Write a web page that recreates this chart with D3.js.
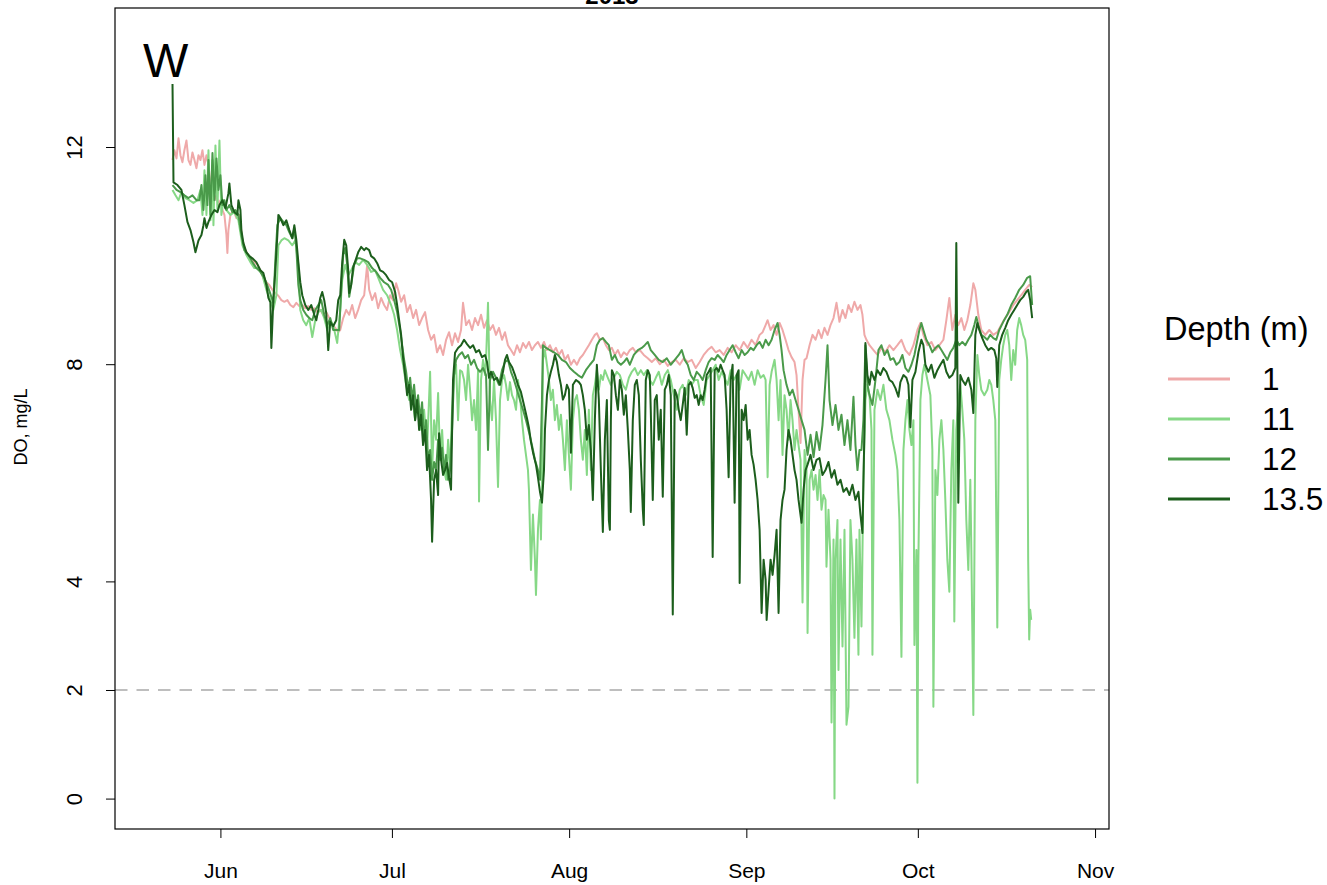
<!DOCTYPE html>
<html>
<head>
<meta charset="utf-8">
<script src="https://cdn.jsdelivr.net/npm/d3@7"></script>
<style>
  body { margin: 0; background: #fff; }
  svg { display: block; font-family: "Liberation Sans", Arial, sans-serif; }
</style>
</head>
<body>
<svg id="chart" width="1327" height="885"></svg>
<script>
// Dissolved oxygen at station W, 2013 season, by sensor depth.
// Each record is [day of year (fractional), DO in mg/L].

const panelTitle = "2013";
const stationLabel = "W";
const yAxisTitle = "DO, mg/L";
const legendTitle = "Depth (m)";
const depthLabels = ["1", "11", "12", "13.5"];
const yTickValues = [0, 2, 4, 8, 12];
const monthTickDates = ["2013-06-01", "2013-07-01", "2013-08-01", "2013-09-01", "2013-10-01", "2013-11-01"];
const xLimits = ["2013-05-20", "2013-10-28"];
const yLimits = [0, 14];
const hypoxiaLevel = 2;

const doDepth1 = [
[143.62,11.76],[143.96,11.94],[144.32,11.79],[144.67,12.16],[145.01,11.85],[145.36,11.72],[145.70,11.94],[146.06,12.12],
[146.41,11.76],[146.76,11.67],[147.11,11.90],[147.46,11.76],[147.81,11.61],[148.16,11.85],[148.51,11.76],[148.86,11.94],
[149.21,11.67],[149.56,11.85],[149.91,11.67],[150.26,11.30],[150.61,11.21],[150.96,11.02],[151.31,11.11],[151.66,10.93],
[152.00,11.02],[152.35,10.84],[152.70,10.75],[153.05,10.38],[153.22,10.05],[153.40,10.47],[153.75,10.75],[154.27,10.84],
[154.80,10.69],[155.32,10.75],[155.85,10.28],[156.37,10.10],[156.90,10.01],[157.42,9.95],[157.94,9.88],[158.47,9.83],
[158.99,9.73],[159.51,9.59],[160.04,9.51],[160.56,9.46],[161.09,9.37],[161.61,9.31],[162.14,9.26],[162.66,9.18],
[163.18,9.15],[163.71,9.18],[164.23,9.09],[164.76,9.05],[165.28,9.13],[165.80,9.07],[166.32,9.09],[166.84,9.03],
[167.37,9.07],[167.89,9.00],[168.42,9.03],[168.94,8.96],[169.46,9.00],[169.99,8.91],[170.51,8.96],[171.04,8.85],
[171.56,8.72],[172.08,8.67],[172.61,8.59],[172.96,8.63],[173.48,8.85],[174.01,9.00],[174.53,8.91],[175.05,9.09],
[175.57,8.85],[176.10,9.00],[176.62,9.18],[177.15,9.27],[177.67,9.83],[178.02,9.37],[178.54,9.18],[179.07,9.31],
[179.59,9.03],[180.11,9.22],[180.64,9.09],[181.16,9.00],[181.69,9.27],[182.21,9.18],[182.74,9.49],[183.09,9.37],
[183.61,9.15],[184.14,9.27],[184.66,8.96],[185.19,9.09],[185.71,8.85],[186.23,9.00],[186.76,8.72],[187.28,8.85],
[187.80,8.96],[188.33,8.63],[188.85,8.45],[189.38,8.54],[189.90,8.22],[190.43,8.35],[190.95,8.17],[191.48,8.45],
[192.00,8.59],[192.52,8.35],[193.04,8.57],[193.57,8.41],[194.09,8.63],[194.44,9.13],[194.97,8.72],[195.49,8.81],
[196.02,8.63],[196.54,8.85],[197.07,8.72],[197.59,8.91],[198.11,8.67],[198.64,8.81],[199.16,8.63],[199.68,8.72],
[200.21,8.54],[200.73,8.67],[201.26,8.45],[201.78,8.59],[202.30,8.35],[202.83,8.26],[203.36,8.17],[203.88,8.35],
[204.40,8.22],[204.93,8.39],[205.45,8.30],[205.97,8.41],[206.50,8.26],[207.02,8.35],[207.55,8.41],[208.07,8.30],
[208.60,8.41],[209.12,8.26],[209.64,8.35],[210.16,8.22],[210.69,8.30],[211.21,8.17],[211.74,8.26],[212.26,8.08],
[212.79,8.17],[213.31,7.99],[213.84,8.08],[214.36,7.99],[214.89,8.11],[215.40,8.17],[215.93,8.26],[216.45,8.35],
[216.98,8.45],[217.50,8.54],[217.85,8.57],[218.38,8.45],[218.90,8.48],[219.43,8.35],[219.95,8.26],[220.48,8.30],
[221.00,8.17],[221.53,8.26],[222.05,8.13],[222.57,8.22],[223.10,8.17],[223.62,8.26],[224.14,8.30],[224.67,8.22],
[225.37,8.26],[226.06,8.17],[226.76,8.11],[227.46,8.04],[228.16,8.11],[228.86,8.00],[229.56,8.08],[230.26,7.97],
[230.96,8.04],[231.66,8.08],[232.35,7.99],[233.05,8.11],[233.75,8.04],[234.45,8.08],[235.15,7.93],[235.84,8.04],
[236.54,8.17],[237.24,8.26],[237.93,8.32],[238.64,8.22],[239.33,8.26],[240.03,8.17],[240.73,8.30],[241.43,8.22],
[242.13,8.35],[242.83,8.26],[243.53,8.41],[244.23,8.30],[244.92,8.45],[245.62,8.35],[246.32,8.54],[246.85,8.59],
[247.37,8.72],[247.72,8.81],[248.24,8.63],[248.77,8.72],[249.29,8.54],[249.82,8.76],[250.33,8.63],[250.86,8.45],
[251.38,8.26],[251.91,8.13],[252.43,8.04],[252.78,7.80],[253.13,7.16],[253.48,6.55],[253.83,7.71],[254.18,8.08],
[254.53,8.11],[255.06,8.35],[255.58,8.54],[256.11,8.45],[256.63,8.63],[257.15,8.48],[257.67,8.67],[258.20,8.54],
[258.72,8.72],[259.25,8.85],[259.77,9.13],[260.29,8.78],[260.82,9.00],[261.34,8.85],[261.87,9.09],[262.39,8.96],
[262.91,9.15],[263.44,9.00],[263.96,9.09],[264.31,8.91],[264.66,8.54],[265.01,8.45],[265.54,8.35],[266.24,8.26],
[266.94,8.17],[267.63,8.30],[268.33,8.22],[269.03,8.35],[269.73,8.26],[270.43,8.35],[271.13,8.45],[271.83,8.26],
[272.53,8.17],[273.23,8.35],[273.93,8.63],[274.45,8.76],[274.97,8.54],[275.67,8.35],[276.37,8.41],[277.07,8.26],
[277.77,8.35],[278.47,8.45],[278.99,8.81],[279.51,9.22],[280.03,8.63],[280.56,8.91],[281.08,8.72],[281.61,8.85],
[282.13,8.63],[282.66,8.81],[283.18,9.09],[283.71,9.49],[284.06,9.37],[284.58,8.91],[285.10,8.63],[285.80,8.54],
[286.50,8.63],[287.20,8.54],[287.90,8.59],[288.59,8.72],[289.29,8.85],[289.99,8.96],[290.69,9.09],[291.38,9.18],
[292.08,9.27],[292.78,9.37],[293.48,9.46],[294.00,9.42]
];

const doDepth11 = [
[143.62,11.21],[144.14,11.11],[144.67,11.02],[145.18,11.17],[145.88,11.06],[146.58,11.02],[147.28,10.97],[147.98,11.02],
[148.51,11.21],[148.86,10.75],[149.21,11.57],[149.56,10.75],[149.91,11.94],[150.26,10.65],[150.61,11.76],[150.78,10.56],
[151.13,12.03],[151.48,10.84],[151.83,12.12],[152.17,10.75],[152.52,11.02],[153.05,10.84],[153.75,10.75],[154.45,10.80],
[155.15,10.65],[155.85,10.19],[156.55,10.01],[157.24,9.88],[157.94,9.77],[158.64,9.77],[159.34,9.64],[160.04,9.37],
[160.74,9.18],[161.26,9.00],[161.79,9.27],[162.14,10.19],[162.66,10.28],[163.18,10.32],[163.88,10.28],[164.58,10.19],
[165.11,10.28],[165.63,9.83],[165.97,9.00],[166.49,8.81],[167.02,8.72],[167.54,8.85],[168.07,8.50],[168.59,8.81],
[169.12,8.96],[169.64,9.00],[170.16,8.85],[170.69,8.63],[171.21,8.81],[171.73,8.72],[172.43,8.39],[172.96,9.00],
[173.31,9.55],[173.83,9.83],[174.36,9.64],[174.87,9.73],[175.57,9.88],[176.27,9.83],[176.97,9.92],[177.67,9.83],
[178.37,9.70],[179.07,9.73],[179.77,9.55],[180.46,9.37],[181.16,9.27],[181.86,9.09],[182.39,8.91],[182.91,8.63],
[183.44,8.26],[183.96,7.99],[184.49,7.62],[185.01,7.34],[185.53,7.43],[186.06,6.97],[186.58,7.25],[187.10,6.79],
[187.63,7.16],[188.15,6.42],[188.68,7.86],[189.03,6.05],[189.38,6.97],[189.73,6.61],[190.08,7.47],[190.43,6.24],
[190.78,6.79],[191.13,6.05],[191.48,5.87],[191.83,6.61],[192.17,6.05],[192.52,7.16],[192.87,7.80],[193.22,7.99],
[193.57,6.97],[193.92,7.89],[194.27,7.86],[194.62,7.71],[194.97,7.34],[195.32,7.99],[195.67,7.53],[196.02,6.97],
[196.37,7.34],[196.72,6.79],[197.07,7.89],[197.24,5.47],[197.59,7.71],[197.94,8.08],[198.29,7.80],[198.47,8.08],
[198.81,9.13],[199.16,7.34],[199.51,6.97],[199.86,7.71],[200.21,6.97],[200.56,5.74],[200.91,7.34],[201.26,7.71],
[201.61,7.80],[201.96,7.62],[202.30,7.34],[202.65,7.67],[203.01,7.43],[203.36,7.34],[203.71,7.16],[204.05,7.71],
[204.40,7.43],[204.75,6.97],[205.10,6.61],[205.45,6.33],[205.80,6.05],[205.97,5.69],[206.32,4.21],[206.67,5.23],
[207.02,4.40],[207.20,3.75],[207.55,4.95],[207.90,5.50],[208.07,4.77],[208.25,5.87],[208.42,8.08],[208.77,8.26],
[209.12,7.99],[209.47,7.71],[209.81,7.34],[210.16,7.53],[210.51,6.97],[210.86,7.25],[211.21,6.79],[211.56,7.07],
[211.91,6.61],[212.26,6.05],[212.61,6.97],[212.96,6.33],[213.31,5.69],[213.66,6.97],[214.01,7.34],[214.36,7.43],
[214.71,7.16],[215.05,6.61],[215.40,6.24],[215.75,6.79],[216.10,5.96],[216.45,7.16],[216.80,6.05],[217.15,7.43],
[217.50,7.62],[217.85,7.89],[218.20,7.53],[218.55,7.80],[218.90,7.71],[219.25,7.89],[219.78,7.75],[220.30,7.62],
[220.83,7.75],[221.35,7.86],[221.87,7.80],[222.40,7.62],[222.92,7.53],[223.45,7.75],[223.97,7.86],[224.49,7.93],
[225.02,7.80],[225.54,7.89],[226.06,7.80],[226.59,7.89],[227.11,7.71],[227.63,7.62],[228.16,7.75],[228.68,7.86],
[229.21,7.62],[229.73,7.80],[230.26,7.89],[230.78,7.71],[231.31,7.43],[231.83,7.16],[232.35,7.53],[232.87,7.62],
[233.40,7.43],[233.92,7.71],[234.45,7.62],[234.97,7.71],[235.50,7.71],[236.01,7.43],[236.54,7.25],[237.06,7.71],
[237.59,7.80],[238.11,7.89],[238.64,7.99],[239.16,7.71],[239.68,7.86],[240.20,7.75],[240.73,7.62],[241.25,7.89],
[241.78,7.71],[242.30,7.80],[242.83,7.53],[243.35,7.89],[243.88,7.80],[244.40,7.71],[244.92,7.86],[245.45,7.62],
[245.97,7.89],[246.50,7.75],[247.02,7.80],[247.37,7.71],[247.72,5.92],[248.07,7.62],[248.42,7.86],[248.94,8.08],
[249.29,7.71],[249.64,6.97],[249.98,7.71],[250.33,6.33],[250.68,7.43],[251.03,7.16],[251.38,6.61],[251.73,7.34],
[252.08,6.97],[252.43,6.42],[252.78,6.79],[253.13,6.51],[253.48,6.24],[253.83,3.61],[254.18,6.42],[254.53,6.05],
[254.71,3.05],[255.06,5.87],[255.41,6.05],[255.76,5.69],[256.11,5.96],[256.45,5.50],[256.80,6.05],[257.15,5.32],
[257.50,5.59],[257.85,5.50],[258.02,4.27],[258.37,5.32],[258.72,4.40],[258.90,1.40],[259.25,4.77],[259.42,0.00],
[259.60,4.40],[259.94,5.13],[260.12,2.37],[260.47,4.77],[260.82,2.80],[261.17,4.95],[261.52,1.36],[261.87,1.69],
[262.21,5.13],[262.56,4.40],[262.91,2.96],[263.26,4.77],[263.61,2.65],[263.79,4.95],[264.14,3.17],[264.48,5.87],
[264.83,7.34],[265.18,7.62],[265.54,7.43],[265.89,6.79],[266.06,2.65],[266.41,7.16],[266.94,7.53],[267.45,7.34],
[267.98,7.62],[268.50,7.16],[269.03,6.97],[269.55,6.61],[270.08,6.33],[270.43,6.05],[270.78,5.13],[271.13,2.61],
[271.48,6.42],[271.83,6.97],[272.18,7.34],[272.53,6.79],[272.88,6.51],[273.23,6.97],[273.40,2.83],[273.75,4.58],
[273.93,0.29],[274.10,4.40],[274.45,7.34],[274.80,7.80],[275.15,7.99],[275.67,7.71],[276.19,7.43],[276.54,6.42],
[276.72,1.69],[277.07,6.05],[277.42,5.59],[277.77,6.61],[278.12,6.97],[278.47,6.42],[278.81,5.50],[279.16,4.40],
[279.51,3.81],[279.86,6.05],[280.21,6.97],[280.38,3.26],[280.73,6.79],[281.08,7.34],[281.43,7.62],[281.78,7.16],
[282.13,6.61],[282.48,5.13],[282.83,4.21],[283.18,5.87],[283.36,4.58],[283.71,1.54],[284.06,6.97],[284.41,8.17],
[284.75,7.80],[285.10,7.53],[285.63,7.43],[286.15,7.53],[286.50,7.71],[286.85,7.62],[287.20,7.34],[287.55,6.97],
[287.90,3.15],[288.24,7.71],[288.59,8.08],[288.94,8.35],[289.29,8.54],[289.64,8.63],[289.99,8.35],[290.34,7.71],
[290.69,8.26],[291.03,7.99],[291.38,8.63],[291.73,8.85],[292.08,8.72],[292.43,8.54],[292.78,8.45],[293.13,8.08],
[293.30,4.40],[293.48,2.93],[293.65,3.48],[293.83,3.29]
];

const doDepth12 = [
[143.62,11.30],[144.32,11.21],[145.01,11.17],[145.70,11.11],[146.41,11.06],[147.11,11.11],[147.81,11.02],[148.33,11.02],
[148.68,11.30],[149.03,10.84],[149.38,11.48],[149.73,10.93],[149.91,11.76],[150.26,10.75],[150.61,11.89],[150.96,11.02],
[151.31,11.79],[151.66,11.21],[152.00,11.48],[152.35,10.93],[152.70,11.02],[153.05,10.84],[153.57,10.93],[154.10,10.80],
[154.62,10.84],[155.15,10.75],[155.67,10.38],[156.20,10.10],[156.90,10.01],[157.59,9.88],[158.29,9.77],[158.99,9.70],
[159.69,9.59],[160.39,9.40],[160.91,9.24],[161.26,9.13],[161.61,9.92],[161.96,10.56],[162.48,10.69],[163.01,10.62],
[163.53,10.56],[164.06,10.43],[164.58,10.32],[164.93,10.51],[165.28,10.14],[165.63,9.46],[165.97,9.18],[166.49,9.00],
[167.02,8.91],[167.54,8.85],[168.07,8.81],[168.59,9.00],[169.12,9.09],[169.64,9.18],[170.16,8.91],[170.69,8.72],
[171.21,8.85],[171.73,8.63],[172.26,8.63],[172.78,8.63],[173.13,9.37],[173.48,10.01],[173.83,10.14],[174.18,9.83],
[174.53,9.24],[174.87,9.46],[175.40,9.83],[175.92,9.95],[176.45,9.95],[177.15,9.92],[177.85,9.88],[178.54,9.77],
[179.24,9.70],[179.94,9.59],[180.64,9.51],[181.34,9.46],[181.86,9.37],[182.39,9.18],[182.91,8.96],[183.44,8.63],
[183.79,8.35],[184.14,8.08],[184.49,7.86],[184.84,7.53],[185.19,7.75],[185.53,7.35],[185.88,7.62],[186.23,7.16],
[186.58,7.43],[186.93,6.97],[187.28,7.30],[187.63,6.61],[187.98,6.97],[188.33,6.24],[188.68,6.42],[189.03,5.87],
[189.38,6.20],[189.73,6.05],[190.08,6.61],[190.43,6.24],[190.78,6.46],[191.13,6.05],[191.48,6.33],[191.83,5.87],
[192.17,6.05],[192.52,6.79],[192.87,7.80],[193.22,8.08],[193.74,8.17],[194.27,8.22],[194.79,8.11],[195.32,8.17],
[195.84,7.99],[196.37,8.08],[196.89,7.93],[197.42,7.86],[197.94,7.93],[198.47,7.80],[198.81,6.42],[199.16,7.71],
[199.68,7.86],[200.21,7.75],[200.73,7.62],[201.26,7.89],[201.78,8.04],[202.30,8.08],[202.83,7.86],[203.36,7.71],
[203.88,7.53],[204.40,7.34],[204.93,7.16],[205.45,6.97],[205.97,6.75],[206.50,6.51],[207.02,6.24],[207.55,6.05],
[207.90,5.87],[208.25,7.34],[208.42,8.35],[208.95,8.30],[209.64,8.26],[210.34,8.22],[211.04,8.17],[211.74,8.08],
[212.44,8.04],[213.14,7.93],[213.84,7.86],[214.54,7.80],[215.23,7.75],[215.93,7.89],[216.63,7.99],[217.33,8.08],
[217.85,8.35],[218.38,8.45],[218.90,8.48],[219.43,8.41],[219.95,8.35],[220.48,8.08],[221.00,8.17],[221.53,8.04],
[222.05,7.99],[222.57,8.04],[223.10,8.11],[223.62,7.99],[224.32,8.17],[225.02,8.26],[225.71,8.30],[226.24,8.35],
[226.76,8.41],[227.28,8.26],[227.98,8.17],[228.68,8.08],[229.38,8.04],[230.08,8.11],[230.78,7.99],[231.48,8.08],
[232.18,8.17],[232.70,8.26],[233.22,8.08],[233.75,7.99],[234.27,7.80],[234.80,7.71],[235.32,7.86],[235.84,7.80],
[236.36,7.71],[236.89,7.89],[237.41,8.04],[237.93,8.11],[238.46,8.08],[238.98,8.17],[239.50,8.11],[240.03,8.04],
[240.55,8.17],[241.08,8.26],[241.60,8.35],[242.13,8.22],[242.65,8.11],[243.18,8.26],[243.70,8.17],[244.23,8.22],
[244.75,8.30],[245.27,8.26],[245.80,8.35],[246.32,8.41],[246.85,8.30],[247.37,8.45],[247.90,8.35],[248.42,8.45],
[248.94,8.63],[249.47,8.76],[249.82,8.54],[250.16,8.26],[250.51,7.89],[251.03,7.62],[251.56,7.43],[252.08,7.53],
[252.61,7.34],[253.13,7.16],[253.66,6.97],[254.18,6.79],[254.71,6.33],[255.23,6.70],[255.76,6.29],[256.28,6.75],
[256.80,6.42],[257.32,6.88],[257.85,7.71],[258.20,8.35],[258.55,7.34],[259.07,6.88],[259.60,7.25],[260.12,6.79],
[260.64,7.07],[261.17,6.51],[261.69,6.97],[262.21,6.42],[262.74,7.40],[263.09,6.51],[263.44,6.05],[263.79,6.42],
[264.14,6.42],[264.48,6.97],[264.83,8.35],[265.18,7.62],[265.54,7.43],[266.06,7.25],[266.59,7.71],[267.11,8.26],
[267.63,8.35],[268.16,8.17],[268.68,8.26],[269.21,8.08],[269.73,8.11],[270.26,7.99],[270.78,8.04],[271.30,8.17],
[271.83,7.93],[272.35,7.86],[272.88,7.99],[273.40,8.17],[273.93,8.45],[274.27,8.63],[274.62,8.76],[274.97,8.63],
[275.49,8.45],[276.02,8.35],[276.54,8.22],[277.07,8.30],[277.59,8.35],[278.12,8.26],[278.64,8.17],[279.16,8.08],
[279.69,8.22],[280.21,8.30],[280.73,8.45],[281.26,8.35],[281.78,8.41],[282.31,8.35],[282.83,8.45],[283.36,8.54],
[283.88,8.72],[284.23,8.87],[284.58,8.72],[285.10,8.54],[285.63,8.50],[286.15,8.45],[286.67,8.54],[287.20,8.48],
[287.72,8.45],[288.24,8.63],[288.94,8.78],[289.64,8.91],[290.34,9.09],[291.03,9.22],[291.73,9.37],[292.43,9.46],
[293.13,9.59],[293.65,9.62],[294.00,9.09]
];

const doDepth13_5 = [
[143.62,13.16],[143.79,11.35],[144.49,11.30],[145.18,11.21],[145.70,10.93],[146.23,10.62],[146.76,10.47],[147.28,10.25],
[147.63,10.06],[148.16,10.28],[148.68,10.38],[149.03,10.56],[149.21,10.69],[149.56,10.51],[149.91,10.62],[150.43,10.75],
[150.96,10.84],[151.48,10.80],[151.83,10.93],[152.35,11.02],[152.87,10.87],[153.40,11.15],[153.57,11.33],[153.92,10.93],
[154.45,10.80],[154.97,10.75],[155.15,11.02],[155.50,10.84],[155.67,10.47],[156.02,10.23],[156.55,10.06],[157.07,9.99],
[157.59,9.95],[158.29,9.88],[158.99,9.73],[159.51,9.68],[160.04,9.46],[160.39,9.22],[160.74,9.14],[160.91,8.30],
[161.26,9.18],[161.61,9.73],[161.96,10.38],[162.14,10.75],[162.48,10.69],[163.01,10.56],[163.53,10.65],[164.06,10.47],
[164.58,10.32],[164.93,10.56],[165.28,10.29],[165.63,9.88],[165.97,9.51],[166.32,9.27],[166.84,9.09],[167.37,9.00],
[167.89,9.09],[168.42,8.91],[168.77,8.81],[169.12,9.00],[169.46,9.22],[169.81,9.33],[170.16,9.18],[170.51,8.94],
[170.86,8.26],[171.21,8.78],[171.73,8.70],[172.26,8.81],[172.61,9.18],[172.96,9.27],[173.31,9.88],[173.66,10.29],
[174.01,10.19],[174.36,9.73],[174.53,9.31],[174.87,9.46],[175.22,9.79],[175.75,9.95],[176.10,10.06],[176.62,10.16],
[177.15,10.10],[177.50,10.14],[178.02,10.10],[178.37,9.99],[178.89,9.95],[179.42,9.86],[179.94,9.73],[180.46,9.70],
[180.99,9.64],[181.51,9.55],[182.04,9.51],[182.56,9.33],[182.91,9.09],[183.26,8.81],[183.61,8.54],[183.96,8.11],
[184.31,7.80],[184.66,7.43],[185.01,7.62],[185.36,7.16],[185.71,7.43],[186.06,6.97],[186.41,7.34],[186.76,6.79],
[187.10,7.07],[187.45,6.51],[187.80,6.79],[188.15,6.05],[188.50,6.33],[188.85,5.50],[189.03,4.73],[189.38,5.87],
[189.73,6.05],[190.08,5.59],[190.25,6.73],[190.60,6.24],[190.95,5.96],[191.30,6.05],[191.65,6.18],[192.00,5.91],
[192.34,5.69],[192.69,7.71],[193.04,8.21],[193.57,8.30],[194.09,8.35],[194.62,8.45],[195.14,8.37],[195.67,8.30],
[196.19,8.35],[196.72,8.22],[197.24,8.26],[197.76,8.13],[198.29,8.17],[198.64,8.04],[198.99,7.75],[199.33,7.86],
[199.86,7.71],[200.38,7.75],[200.91,7.62],[201.43,7.86],[201.78,8.08],[202.13,8.17],[202.48,8.04],[203.01,7.95],
[203.53,7.80],[204.05,7.62],[204.57,7.49],[205.10,7.25],[205.62,7.01],[205.97,6.83],[206.32,6.57],[206.67,6.38],
[207.20,6.15],[207.55,5.91],[207.90,5.65],[208.25,5.45],[208.60,6.05],[208.77,6.79],[209.12,7.43],[209.47,7.71],
[209.81,7.86],[210.16,7.99],[210.51,8.17],[210.86,8.04],[211.21,7.80],[211.56,7.62],[211.91,7.35],[212.26,7.43],
[212.61,7.62],[212.96,7.53],[213.31,6.37],[213.66,7.62],[214.19,7.71],[214.71,7.67],[215.05,7.62],[215.40,7.43],
[215.75,7.16],[216.10,6.61],[216.45,6.88],[216.80,6.42],[217.15,5.50],[217.50,6.97],[217.85,7.99],[218.20,7.34],
[218.55,6.05],[218.90,4.91],[219.25,6.61],[219.60,7.34],[219.95,5.13],[220.13,4.95],[220.30,6.97],[220.48,7.89],
[220.83,7.80],[221.18,7.43],[221.53,7.16],[221.87,7.71],[222.22,7.53],[222.57,7.07],[222.92,7.43],[223.27,6.79],
[223.62,6.05],[223.79,5.28],[224.14,6.97],[224.49,7.62],[224.84,7.71],[225.19,7.43],[225.54,6.24],[225.89,5.32],
[226.06,5.04],[226.41,7.71],[226.76,7.89],[227.11,7.80],[227.28,7.16],[227.63,5.50],[227.98,7.34],[228.33,7.43],
[228.68,6.61],[229.03,7.16],[229.38,5.56],[229.73,7.53],[230.08,7.62],[230.43,7.80],[230.78,7.43],[231.13,3.39],
[231.48,7.53],[231.83,7.43],[232.18,7.16],[232.52,6.97],[232.87,7.25],[233.22,7.56],[233.57,6.70],[233.92,7.62],
[234.27,7.67],[234.62,7.56],[234.97,7.38],[235.32,7.43],[235.67,7.25],[236.01,7.43],[236.36,7.34],[236.71,7.53],
[237.06,7.80],[237.41,7.86],[237.76,7.93],[238.11,4.45],[238.46,7.89],[238.81,7.93],[239.16,7.86],[239.50,7.99],
[239.85,7.89],[240.20,7.80],[240.55,7.16],[240.90,5.92],[241.25,7.71],[241.60,7.99],[241.95,5.45],[242.30,7.80],
[242.65,7.89],[242.83,3.97],[243.18,7.16],[243.53,6.97],[243.88,7.25],[244.23,6.61],[244.57,6.79],[244.92,6.33],
[245.27,6.15],[245.62,5.87],[245.97,5.50],[246.32,4.95],[246.67,3.42],[247.02,4.40],[247.37,4.03],[247.55,3.29],
[247.90,3.85],[248.24,4.40],[248.59,4.12],[248.94,4.49],[249.29,4.95],[249.64,3.42],[249.98,5.13],[250.33,5.50],
[250.68,5.69],[251.03,6.42],[251.38,6.79],[251.73,6.61],[252.08,6.33],[252.43,6.05],[252.78,5.87],[253.13,5.50],
[253.66,5.08],[254.01,5.69],[254.36,6.05],[254.71,6.15],[255.23,6.33],[255.76,6.05],[256.28,6.24],[256.80,6.27],
[257.32,5.96],[257.85,6.05],[258.37,6.20],[258.90,5.91],[259.42,6.05],[259.94,5.78],[260.47,5.87],[260.99,5.65],
[261.52,5.72],[262.04,5.59],[262.56,5.78],[263.09,5.50],[263.61,5.65],[263.96,5.23],[264.31,4.89],[264.66,6.79],
[264.83,8.39],[265.18,7.80],[265.54,7.62],[265.89,7.86],[266.41,7.71],[266.94,7.89],[267.45,7.80],[267.98,7.93],
[268.50,7.86],[269.03,7.71],[269.55,7.67],[270.08,7.56],[270.60,7.40],[270.95,7.67],[271.48,7.80],[272.00,7.75],
[272.35,7.62],[272.70,6.84],[273.05,7.71],[273.58,7.86],[274.10,8.22],[274.62,8.45],[274.97,8.35],[275.32,7.99],
[275.84,7.86],[276.37,7.99],[276.89,7.75],[277.42,7.89],[277.94,7.99],[278.47,8.08],[278.99,7.86],[279.51,7.75],
[280.03,7.80],[280.56,7.93],[280.73,10.23],[280.91,8.08],[281.08,5.45],[281.43,7.80],[281.78,7.71],[282.31,7.62],
[282.83,7.75],[283.36,7.53],[283.71,7.10],[284.06,8.54],[284.41,8.76],[284.75,8.63],[285.27,8.48],[285.80,8.35],
[286.32,8.26],[286.85,8.30],[287.37,8.26],[287.72,8.11],[287.90,7.58],[288.24,8.35],[288.76,8.54],[289.29,8.67],
[289.81,8.81],[290.34,8.91],[290.86,9.00],[291.38,9.09],[291.90,9.18],[292.43,9.24],[292.95,9.33],[293.30,9.37],
[293.65,9.18],[294.00,8.85]
];

// Series in drawing order, with their colours.
const series = [
  { label: depthLabels[0], color: "#EFA9A9", values: doDepth1 },
  { label: depthLabels[1], color: "#86D886", values: doDepth11 },
  { label: depthLabels[2], color: "#4A9A4A", values: doDepth12 },
  { label: depthLabels[3], color: "#1C5E1C", values: doDepth13_5 }
];

const W = 1327, H = 885;
const plot = { left: 115, top: 8, right: 1109, bottom: 829 };
const FONT = '"Liberation Sans", Arial, sans-serif';

const dayToDate = doy => new Date(Date.UTC(2013, 0, 1) + (doy - 1) * 864e5);
const parseDay = s => new Date(s + "T00:00:00Z");

// Axis ranges padded by 4% on each side.
function pad(lo, hi) { const r = hi - lo; return [lo - 0.04 * r, hi + 0.04 * r]; }
const xl = pad(+parseDay(xLimits[0]), +parseDay(xLimits[1]));
const yl = pad(yLimits[0], yLimits[1]);

const x = d3.scaleUtc().domain([new Date(xl[0]), new Date(xl[1])]).range([plot.left, plot.right]);
const y = d3.scaleLinear().domain(yl).range([plot.bottom, plot.top]);

const svg = d3.select("#chart");
svg.append("rect").attr("width", W).attr("height", H).attr("fill", "#fff");

// Hypoxia reference line
svg.append("line")
  .attr("x1", plot.left).attr("x2", plot.right)
  .attr("y1", y(hypoxiaLevel)).attr("y2", y(hypoxiaLevel))
  .attr("stroke", "#BEBEBE").attr("stroke-width", 2.2)
  .attr("stroke-dasharray", "12.5,9");

// Series lines
const line = d3.line()
  .x(d => x(dayToDate(d[0])))
  .y(d => y(d[1]));

svg.append("g").selectAll("path")
  .data(series)
  .join("path")
  .attr("d", s => line(s.values))
  .attr("fill", "none")
  .attr("stroke", s => s.color)
  .attr("stroke-width", 2)
  .attr("stroke-linejoin", "round");

// Plot frame
svg.append("rect")
  .attr("x", plot.left).attr("y", plot.top)
  .attr("width", plot.right - plot.left).attr("height", plot.bottom - plot.top)
  .attr("fill", "none").attr("stroke", "#000").attr("stroke-width", 1.2);

// X axis (months)
const xAxis = d3.axisBottom(x)
  .tickValues(monthTickDates.map(parseDay))
  .tickFormat(d3.utcFormat("%b"))
  .tickSize(9).tickSizeOuter(0).tickPadding(25);
const gx = svg.append("g").attr("transform", `translate(0,${plot.bottom})`).call(xAxis);
gx.select(".domain").remove();
gx.selectAll("line").attr("stroke", "#000");
gx.selectAll("text").attr("font-size", 21).attr("fill", "#000").attr("font-family", FONT);

// Y axis (rotated labels)
const yAxis = d3.axisLeft(y).tickValues(yTickValues).tickSize(9).tickSizeOuter(0);
const gy = svg.append("g").attr("transform", `translate(${plot.left},0)`).call(yAxis);
gy.select(".domain").remove();
gy.selectAll("line").attr("stroke", "#000");
gy.selectAll("text")
  .attr("x", null).attr("dy", null)
  .attr("text-anchor", "middle")
  .attr("transform", "translate(-33,0) rotate(-90)")
  .attr("font-size", 22).attr("fill", "#000")
  .attr("font-family", FONT);

// Axis title
svg.append("text")
  .attr("transform", `translate(27,427) rotate(-90)`)
  .attr("text-anchor", "middle")
  .attr("font-size", 18)
  .text(yAxisTitle);

// Panel title (sits above the frame)
svg.append("text")
  .attr("x", (plot.left + plot.right) / 2).attr("y", 4)
  .attr("text-anchor", "middle")
  .attr("font-size", 24).attr("font-weight", "bold")
  .text(panelTitle);

// Station letter
svg.append("text")
  .attr("x", 143).attr("y", 77)
  .attr("font-size", 48)
  .text(stationLabel);

// Legend
const lg = svg.append("g").attr("transform", "translate(1163,0)");
lg.append("text").attr("x", 1).attr("y", 340).attr("font-size", 32.5).text(legendTitle);
const items = lg.selectAll("g.item").data(series).join("g").attr("class", "item")
  .attr("transform", (d, i) => `translate(0,${379 + i * 40})`);
items.append("line").attr("x1", 5).attr("x2", 67).attr("y1", 0).attr("y2", 0)
  .attr("stroke", d => d.color).attr("stroke-width", 2.8);
items.append("text").attr("x", 99).attr("y", 11).attr("font-size", 31.5).text(d => d.label);
</script>
</body>
</html>
